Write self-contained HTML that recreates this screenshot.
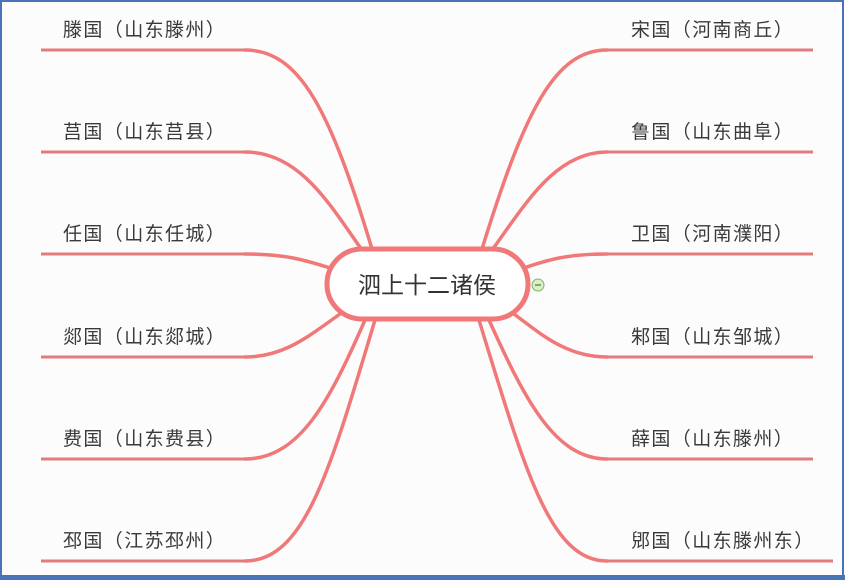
<!DOCTYPE html>
<html><head><meta charset="utf-8"><style>
html,body{margin:0;padding:0;background:#fdfcfd;}
body{width:845px;height:580px;overflow:hidden;}
</style></head><body>
<svg width="845" height="580" viewBox="0 0 845 580" xmlns="http://www.w3.org/2000/svg">
<rect x="0" y="0" width="845" height="580" fill="#fdfcfd"/>
<rect x="1" y="1" width="842" height="576" fill="none" stroke="#4a74b8" stroke-width="2"/>
<rect x="0" y="575" width="845" height="5" fill="#4a74b8"/>
<g fill="none" stroke="#f07878" stroke-linecap="round" stroke-width="3.5">
<path d="M245,50 C300,50 330,110 372,249"/>
<path d="M245,152 C300,152 330,205 362,250"/>
<path d="M245,254 C285,254 305,260 330,268"/>
<path d="M245,357 C285,357 310,335 340,314"/>
<path d="M245,459 C300,459 330,400 365,320"/>
<path d="M245,561 C305,561 330,470 375,320"/>
<path d="M607,50 C555,50 525,110 482,249"/>
<path d="M607,152 C555,152 525,205 492,250"/>
<path d="M607,254 C567,254 547,260 524,268"/>
<path d="M607,357 C567,357 542,335 514,314"/>
<path d="M607,459 C555,459 525,400 489,320"/>
<path d="M607,561 C550,561 525,470 479,320"/>
</g>
<g stroke="#e07c7c" stroke-width="3">
<line x1="41" y1="50" x2="245" y2="50"/>
<line x1="41" y1="152" x2="245" y2="152"/>
<line x1="41" y1="254" x2="245" y2="254"/>
<line x1="41" y1="357" x2="245" y2="357"/>
<line x1="41" y1="459" x2="245" y2="459"/>
<line x1="41" y1="561" x2="245" y2="561"/>
<line x1="607" y1="50" x2="813" y2="50"/>
<line x1="607" y1="152" x2="813" y2="152"/>
<line x1="607" y1="254" x2="813" y2="254"/>
<line x1="607" y1="357" x2="813" y2="357"/>
<line x1="607" y1="459" x2="813" y2="459"/>
<line x1="607" y1="561" x2="833" y2="561"/>
</g>
<rect x="327" y="249" width="201" height="70" rx="35" fill="#fff" stroke="#f07878" stroke-width="5"/>
<text x="427" y="293" text-anchor="middle" font-family="Liberation Sans, Noto Sans CJK SC, sans-serif" font-size="23" fill="#333">泗上十二诸侯</text>
<circle cx="538" cy="285" r="6" fill="#d8efc8" stroke="#7cb560" stroke-width="1"/>
<line x1="535" y1="285" x2="541" y2="285" stroke="#4a7a30" stroke-width="1.2"/>
<g font-family="Liberation Sans, Noto Sans CJK SC, sans-serif" font-size="19" fill="#3a3a3a" letter-spacing="1.4">
<text x="63" y="36">滕国（山东滕州）</text>
<text x="63" y="138">莒国（山东莒县）</text>
<text x="63" y="240">任国（山东任城）</text>
<text x="63" y="343">郯国（山东郯城）</text>
<text x="63" y="445">费国（山东费县）</text>
<text x="63" y="547">邳国（江苏邳州）</text>
<text x="631" y="36">宋国（河南商丘）</text>
<text x="631" y="138">鲁国（山东曲阜）</text>
<text x="631" y="240">卫国（河南濮阳）</text>
<text x="631" y="343">邾国（山东邹城）</text>
<text x="631" y="445">薛国（山东滕州）</text>
<text x="631" y="547">郳国（山东滕州东）</text>
</g>
</svg>
</body></html>
